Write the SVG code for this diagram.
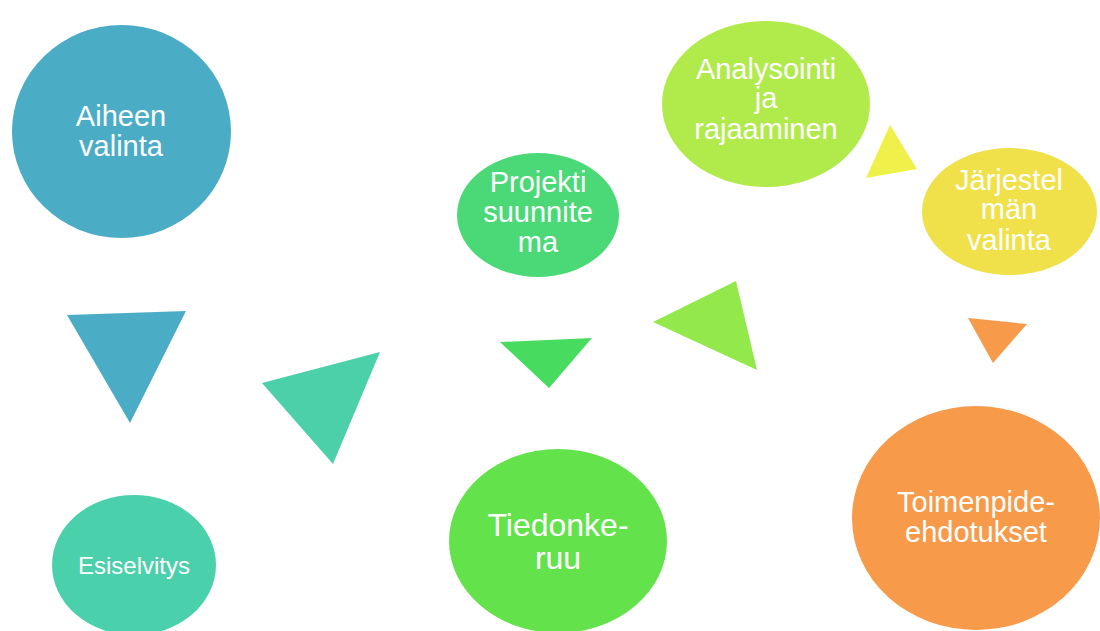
<svg xmlns="http://www.w3.org/2000/svg" width="1100" height="631" viewBox="0 0 1100 631">
<style>
text{font-family:"Liberation Sans",Arial,sans-serif;fill:#fff;text-anchor:middle;font-size:29px}
.s{font-size:24px}
.l{font-size:32px}
</style>
<rect width="1100" height="631" fill="#fff"/>
<g id="connectors">
<polygon points="67,315 186,311 130,423" fill="#4BACC6"/>
<polygon points="262,383 380,352 333,464" fill="#4BD0AA"/>
<polygon points="500,342 592,338 549,388" fill="#47DC60"/>
<polygon points="653,322 736,281 757,370" fill="#93E84B"/>
<polygon points="890,125 917,169 866,178" fill="#EFF04A"/>
<polygon points="968,318 1027,324 993,363" fill="#F79A4A"/>
</g>
<g id="aiheen">
<ellipse cx="121.5" cy="131.5" rx="109.5" ry="106.5" fill="#4BACC6"/>
<text x="121" y="126">Aiheen</text>
<text x="121" y="156">valinta</text>
</g>
<g id="esiselvitys">
<ellipse cx="134" cy="565" rx="82" ry="70" fill="#4BD0AC"/>
<text class="s" x="134" y="574">Esiselvitys</text>
</g>
<g id="projekti">
<ellipse cx="538" cy="215" rx="81" ry="62" fill="#4BD978"/>
<text x="538" y="192">Projekti</text>
<text x="538" y="222">suunnite</text>
<text x="538" y="252">ma</text>
</g>
<g id="tiedonkeruu">
<ellipse cx="558" cy="541" rx="109" ry="92" fill="#64E24B"/>
<text class="l" x="558" y="536">Tiedonke-</text>
<text class="l" x="558" y="569">ruu</text>
</g>
<g id="analysointi">
<ellipse cx="766" cy="104" rx="104" ry="83" fill="#B0EA4B"/>
<text x="766" y="79">Analysointi</text>
<text x="766" y="108">ja</text>
<text x="766" y="139">rajaaminen</text>
</g>
<g id="jarjestelman">
<ellipse cx="1009.5" cy="211.5" rx="87.5" ry="63.5" fill="#F0E14A"/>
<text x="1009" y="190">Järjestel</text>
<text x="1009" y="219">män</text>
<text x="1009" y="250">valinta</text>
</g>
<g id="toimenpide">
<ellipse cx="976" cy="518" rx="124" ry="112" fill="#F79A4A"/>
<text x="976" y="512">Toimenpide-</text>
<text x="976" y="542">ehdotukset</text>
</g>
</svg>
